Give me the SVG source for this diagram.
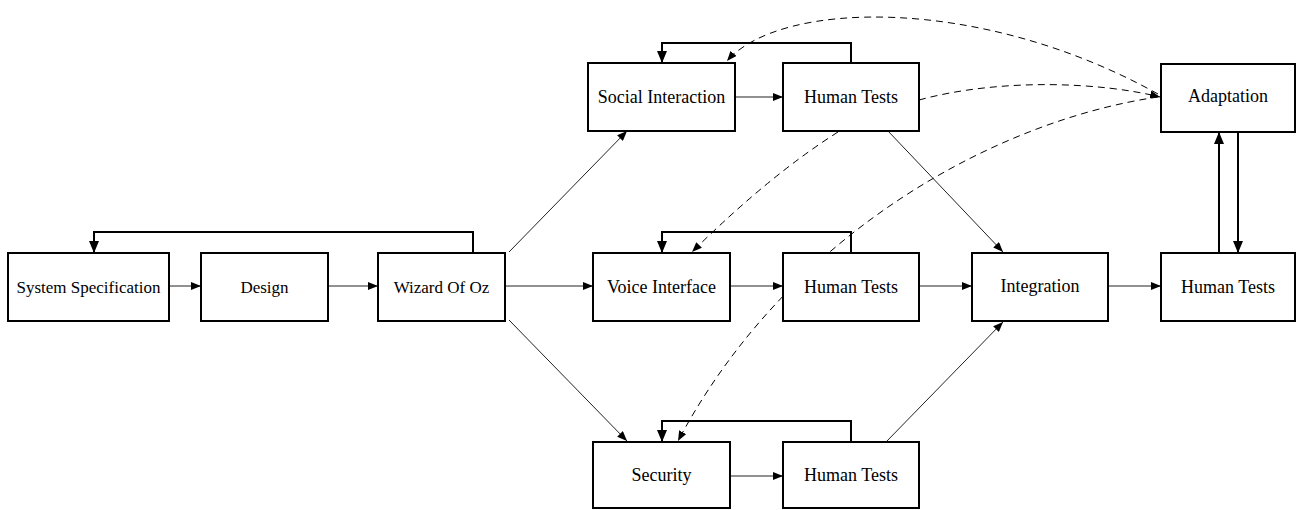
<svg xmlns="http://www.w3.org/2000/svg" width="1297" height="510" viewBox="0 0 1297 510">
<style>
.box{fill:#fff;stroke:#000;stroke-width:2}
.lbl{font-family:'Liberation Serif','Times New Roman',serif;font-size:18px;fill:#000;text-anchor:middle}
.sm{font-size:17px}
.thin{fill:none;stroke:#222;stroke-width:1;marker-end:url(#sm)}
.fb{fill:none;stroke:#000;stroke-width:2;marker-end:url(#lg)}
.dash{fill:none;stroke:#000;stroke-width:1;stroke-dasharray:7,5;marker-end:url(#sm)}
</style>
<defs>
<marker id="sm" viewBox="0 0 10 8" refX="10" refY="4" markerWidth="10" markerHeight="8" markerUnits="userSpaceOnUse" orient="auto"><path d="M0,0 L10,4 L0,8 Z" fill="#000"/></marker>
<marker id="lg" viewBox="0 0 12 10" refX="12" refY="5" markerWidth="12" markerHeight="10" markerUnits="userSpaceOnUse" orient="auto"><path d="M0,0 L12,5 L0,10 Z" fill="#000"/></marker>
</defs>
<g id="connectors">
<line class="thin" x1="169" y1="286" x2="201" y2="286"/>
<line class="thin" x1="328" y1="286" x2="378" y2="286"/>
<line class="thin" x1="505" y1="286" x2="593" y2="286"/>
<line class="thin" x1="730" y1="286" x2="783" y2="286"/>
<line class="thin" x1="919" y1="286" x2="972" y2="286"/>
<line class="thin" x1="1108" y1="286" x2="1161" y2="286"/>
<line class="thin" x1="735" y1="97" x2="783" y2="97"/>
<line class="thin" x1="730" y1="476" x2="783" y2="476"/>
<line class="thin" x1="509" y1="252" x2="627" y2="131"/>
<line class="thin" x1="509" y1="320" x2="627" y2="441"/>
<line class="thin" x1="888" y1="131" x2="1003" y2="252"/>
<line class="thin" x1="886" y1="442" x2="1003" y2="322"/>
<path class="fb" d="M473,253 V232 H94 V253"/>
<path class="fb" d="M851,63 V43 H662 V63"/>
<path class="fb" d="M851,253 V232 H662 V253"/>
<path class="fb" d="M851,442 V421 H662 V442"/>
<line class="fb" x1="1219" y1="253" x2="1219" y2="132"/>
<line class="fb" x1="1238" y1="132" x2="1238" y2="253"/>
<path class="dash" d="M1158,94 C980,-5 780,0 727,61"/>
<path class="dash" d="M919,100 C1000,78 1100,82 1160,97"/>
<path class="dash" d="M1158,97 C1000,120 790,230 678,441"/>
<path class="dash" d="M838,132 Q770,175 692,252"/>
</g>
<g id="n1"><rect class="box" x="8" y="253" width="161" height="68"/><text class="lbl sm" x="88.5" y="293">System Specification</text></g>
<g id="n2"><rect class="box" x="201" y="253" width="127" height="68"/><text class="lbl sm" x="264.5" y="293">Design</text></g>
<g id="n3"><rect class="box" x="378" y="253" width="127" height="68"/><text class="lbl sm" x="441.5" y="293">Wizard Of Oz</text></g>
<g id="n4"><rect class="box" x="588" y="63" width="147" height="68"/><text class="lbl" x="661.5" y="103">Social Interaction</text></g>
<g id="n5"><rect class="box" x="783" y="63" width="136" height="68"/><text class="lbl" x="851" y="103">Human Tests</text></g>
<g id="n6"><rect class="box" x="593" y="253" width="137" height="68"/><text class="lbl" x="661.5" y="293">Voice Interface</text></g>
<g id="n7"><rect class="box" x="783" y="253" width="136" height="68"/><text class="lbl" x="851" y="293">Human Tests</text></g>
<g id="n8"><rect class="box" x="593" y="442" width="137" height="66"/><text class="lbl" x="661.5" y="481">Security</text></g>
<g id="n9"><rect class="box" x="783" y="442" width="136" height="66"/><text class="lbl" x="851" y="481">Human Tests</text></g>
<g id="n10"><rect class="box" x="972" y="253" width="136" height="68"/><text class="lbl" x="1040" y="292">Integration</text></g>
<g id="n11"><rect class="box" x="1161" y="64" width="134" height="68"/><text class="lbl" x="1228" y="102">Adaptation</text></g>
<g id="n12"><rect class="box" x="1161" y="253" width="134" height="68"/><text class="lbl" x="1228" y="293">Human Tests</text></g>
</svg>
